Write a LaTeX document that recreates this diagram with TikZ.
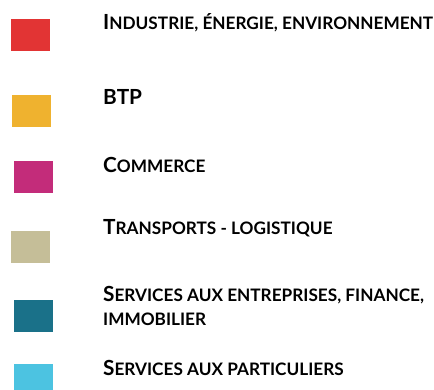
\documentclass[tikz,border=0pt]{standalone}
\usepackage{fontspec}
\setmainfont{Lato}
\usetikzlibrary{positioning}
\definecolor{secIndus}{HTML}{E23434}
\definecolor{secBtp}{HTML}{EFB22F}
\definecolor{secComm}{HTML}{C32C7A}
\definecolor{secTrans}{HTML}{C5BE98}
\definecolor{secEntr}{HTML}{1A7189}
\definecolor{secPart}{HTML}{4CC3E1}
\newcommand\capbig{\fontsize{20.8}{24}\selectfont}
\newcommand\capsmall{\fontsize{17.2}{24}\selectfont}
\newcommand\sclabel[2]{{\capbig #1}{\capsmall #2}}
\begin{document}
\begin{tikzpicture}[x=1pt,y=-1pt,swatch node/.style={shape=rectangle,inner sep=0,minimum width=39pt,minimum height=32pt,anchor=north west},label node/.style={anchor=base west,inner sep=0,font=\bfseries\capsmall,align=left}, ]
		\useasboundingbox (0,0) rectangle (434,389);
		%colour squares
		\foreach \n/\x/\y/\c in {1/11/19/secIndus,2/12/95/secBtp,3/14/161/secComm,4/11/231/secTrans,5/14/300/secEntr,6/14/364/secPart}
		{
		    \node[swatch node,fill=\c] (sw\n) at (\x,\y){};
		}
		
		\node[label node] (lb1) at (103,29){\sclabel{I}{NDUSTRIE, ÉNERGIE, ENVIRONNEMENT}};
		\node[label node] (lb2) at (103,104){\capbig BTP};
		\node[label node] (lb3) at (103,172){\sclabel{C}{OMMERCE}};
		\node[label node] (lb4) at (103,234){\sclabel{T}{RANSPORTS - LOGISTIQUE}};
		%two lines, base is the last one
		\node[label node] (lb5) at (103,325){\sclabel{S}{ERVICES AUX ENTREPRISES, FINANCE,}\\{\capsmall IMMOBILIER}};
		\node[label node] (lb6) at (103,375){\sclabel{S}{ERVICES AUX PARTICULIERS}};
		
		\end{tikzpicture}
\end{document}
